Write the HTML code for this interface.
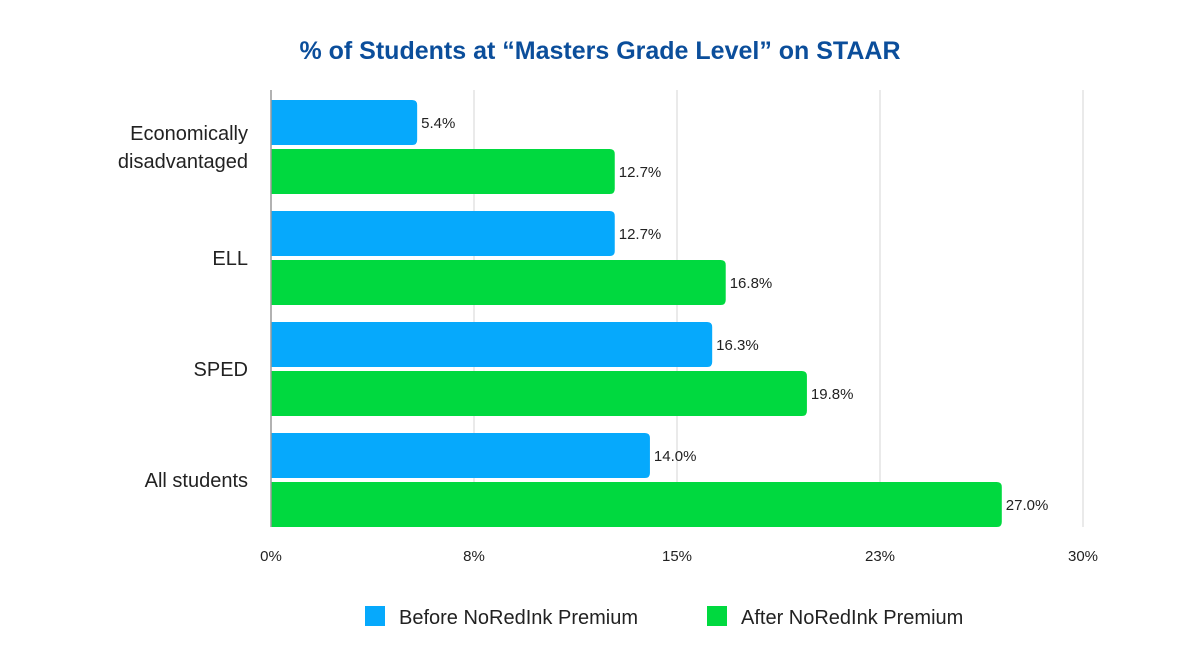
<!DOCTYPE html>
<html><head><meta charset="utf-8"><style>
body{margin:0;background:#fff;font-family:"Liberation Sans",sans-serif}
</style></head><body>
<svg width="1200" height="660" xmlns="http://www.w3.org/2000/svg" id="chart">
<text x="600" y="59" text-anchor="middle" font-size="25" font-weight="bold" fill="#0b4e9b">% of Students at “Masters Grade Level” on STAAR</text>
<g id="grid"></g><g id="bars"></g><g id="labels"></g>
<line x1="271" y1="90" x2="271" y2="527" stroke="#999" stroke-width="1.5"/>
<g>
<rect x="365" y="606" width="20" height="20" fill="#06a9fc"/>
<text x="399" y="624" font-size="20" fill="#222">Before NoRedInk Premium</text>
<rect x="707" y="606" width="20" height="20" fill="#00d93f"/>
<text x="741" y="624" font-size="20" fill="#222">After NoRedInk Premium</text>
</g>
</svg>
<script>
const categories=[["Economically","disadvantaged"],["ELL"],["SPED"],["All students"]];
const beforeValues=[5.4,12.7,16.3,14.0];
const afterValues=[12.7,16.8,19.8,27.0];
const tickValues=[0,7.5,15,22.5,30];
const tickLabels=["0%","8%","15%","23%","30%"];
const NS="http://www.w3.org/2000/svg";
const x0=271,x1=1083,xMax=30,top0=90,groupH=111;
const xs=v=>x0+(x1-x0)*v/xMax;
function mk(tag,attrs,parent){const e=document.createElementNS(NS,tag);for(const k in attrs)e.setAttribute(k,attrs[k]);document.getElementById(parent).appendChild(e);return e;}
tickValues.forEach((t,i)=>{
 if(i>0){const l=mk('line',{x1:xs(t),x2:xs(t),y1:90,y2:527,stroke:'#d6d6d6','stroke-width':1},'grid');
 
 }
 const tx=mk('text',{x:xs(t),y:561,'text-anchor':'middle','font-size':15,fill:'#222'},'labels');tx.textContent=tickLabels[i];
 
 
});
function bar(v,y,color,name){
 const w=xs(v)-x0,r=5;
 const p=mk('path',{d:`M${x0},${y}H${x0+w-r}Q${x0+w},${y} ${x0+w},${y+r}V${y+45-r}Q${x0+w},${y+45} ${x0+w-r},${y+45}H${x0}Z`,fill:color},'bars');
 
 
 const t=mk('text',{x:xs(v)+4,y:y+28,'font-size':15,fill:'#222'},'labels');t.textContent=v.toFixed(1)+'%';
 
 
}
categories.forEach((c,i)=>{
 const y=top0+10+i*groupH;
 bar(beforeValues[i],y,'#06a9fc','bar-before');
 bar(afterValues[i],y+49,'#00d93f','bar-after');
 const cy=y+47;
 const t=mk('text',{x:248,'text-anchor':'end','font-size':20,fill:'#222'},'labels');
 
 
 c.forEach((line,j)=>{const s=document.createElementNS(NS,'tspan');s.setAttribute('x',248);s.setAttribute('y',cy+7+(j-(c.length-1)/2)*28);s.textContent=line;t.appendChild(s);});
});
</script>
</body></html>
